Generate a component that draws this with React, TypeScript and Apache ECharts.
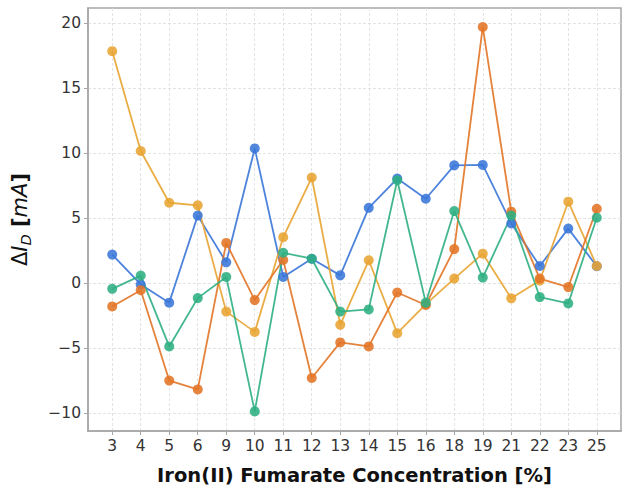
import React, { useEffect, useRef } from "react";
import * as echarts from "echarts";

const categories = ["3", "4", "5", "6", "9", "10", "11", "12", "13", "14", "15", "16", "18", "19", "21", "22", "23", "25"];
const blueValues = [2.2, -0.1, -1.5, 5.2, 1.6, 10.37, 0.48, 1.88, 0.6, 5.8, 8.05, 6.5, 9.07, 9.1, 4.6, 1.32, 4.2, 1.3];
const orangeValues = [-1.79, -0.54, -7.5, -8.18, 3.1, -1.3, 1.78, -7.3, -4.56, -4.87, -0.72, -1.68, 2.62, 19.72, 5.5, 0.35, -0.3, 5.73];
const yellowValues = [17.86, 10.17, 6.19, 5.99, -2.19, -3.75, 3.54, 8.13, -3.21, 1.76, -3.85, -1.63, 0.35, 2.27, -1.17, 0.2, 6.27, 1.32];
const greenValues = [-0.44, 0.58, -4.87, -1.15, 0.48, -9.87, 2.34, 1.88, -2.19, -2.02, 7.92, -1.5, 5.55, 0.43, 5.2, -1.07, -1.56, 5.04];
const yTicks = [-10, -5, 0, 5, 10, 15, 20];

const seriesDefs = [
  { name: "blue", color: "#3a76d9", values: blueValues },
  { name: "yellow", color: "#e8a432", values: yellowValues },
  { name: "orange", color: "#e27426", values: orangeValues },
  { name: "green", color: "#2daf82", values: greenValues },
];

export default function App() {
  const ref = useRef<HTMLDivElement>(null);
  useEffect(() => {
    if (!ref.current) return;
    const chart = echarts.init(ref.current, undefined, { renderer: "svg" });
    const axisColor = "#a6a6a6";
    chart.setOption({
      animation: false,
      grid: {
        left: 88,
        right: 12,
        top: 8,
        bottom: 56,
        show: true,
        borderColor: axisColor,
        borderWidth: 1.5,
        backgroundColor: "transparent",
      },
      xAxis: {
        type: "value",
        min: -0.85,
        max: 17.85,
        name: "Iron(II) Fumarate Concentration [%]",
        nameLocation: "middle",
        nameGap: 34,
        nameTextStyle: { fontFamily: "DejaVu Sans", fontWeight: "bold", fontSize: 19.5, color: "#111" },
        axisLine: { show: true, onZero: false, lineStyle: { color: axisColor, width: 1.5 } },
        axisTick: { show: true, length: 4, lineStyle: { color: axisColor }, customValues: categories.map((_, i) => i) },
        axisLabel: {
          customValues: categories.map((_, i) => i),
          formatter: (v: number) => categories[Math.round(v)] ?? "",
          fontFamily: "DejaVu Sans",
          fontSize: 15.5,
          color: "#333",
          margin: 7,
        },
        splitLine: { show: true, lineStyle: { color: "#dcdcdc", type: [3, 2], width: 0.8 } },
      },
      yAxis: {
        type: "value",
        min: -11.38,
        max: 21.18,
        name: "{r|Δ}{i|I}{s|D}{b| [}{i|mA}{b|]}",
        nameLocation: "middle",
        nameRotate: 90,
        nameGap: 55,
        nameTextStyle: {
          fontFamily: "DejaVu Sans",
          fontSize: 21,
          color: "#111",
          rich: {
            r: { fontFamily: "DejaVu Sans", fontSize: 21, color: "#111", lineHeight: 26 },
            b: { fontFamily: "DejaVu Sans", fontSize: 21, fontWeight: "bold", color: "#111", lineHeight: 26 },
            i: { fontFamily: "DejaVu Sans", fontSize: 21, fontStyle: "italic", color: "#111", lineHeight: 26 },
            s: { fontFamily: "DejaVu Sans", fontSize: 14.5, fontStyle: "italic", color: "#111", lineHeight: 16, verticalAlign: "bottom" },
          },
        },
        axisLine: { show: true, onZero: false, lineStyle: { color: axisColor, width: 1.5 } },
        axisTick: { show: true, length: 4, lineStyle: { color: axisColor }, customValues: yTicks },
        axisLabel: {
          customValues: yTicks,
          formatter: (v: number) => String(v).replace("-", "\u2212"),
          fontFamily: "DejaVu Sans",
          fontSize: 15.5,
          color: "#333",
          margin: 7,
        },
        splitLine: { show: true, lineStyle: { color: "#dcdcdc", type: [3, 2], width: 0.8 } },
      },
      series: seriesDefs.map((s) => ({
        name: s.name,
        type: "line",
        data: s.values.map((v, i) => [i, v]),
        symbol: "circle",
        symbolSize: 10,
        showSymbol: true,
        lineStyle: { color: s.color, width: 1.8, opacity: 0.9 },
        itemStyle: { color: s.color, opacity: 0.88 },
      })),
    });
    return () => chart.dispose();
  }, []);
  return <div ref={ref} style={{ position: "absolute", left: 0, top: 0, width: 633, height: 490 }} />;
}
